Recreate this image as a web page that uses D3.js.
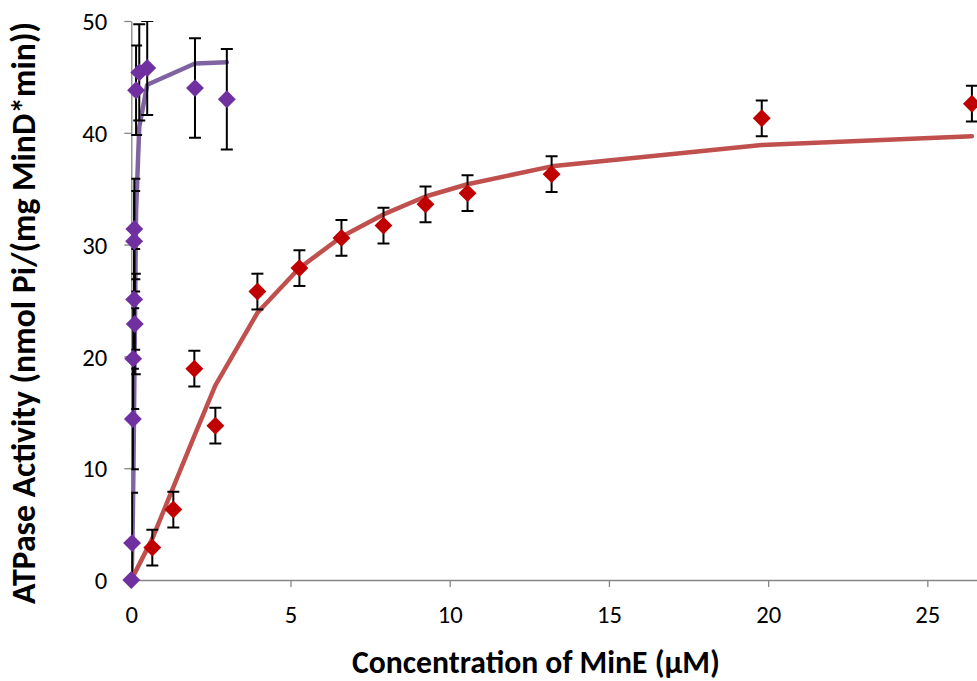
<!DOCTYPE html>
<html>
<head>
<meta charset="utf-8">
<script src="https://cdn.jsdelivr.net/npm/d3@7"></script>
<style>
  html, body { margin: 0; padding: 0; background: #fff; }
  svg { display: block; }
  text { font-family: Carlito, Lato, "Open Sans", sans-serif; }
</style>
</head>
<body>
<svg id="chart" width="977" height="681"></svg>
<script>
// ---- data ----
const redX   = [0.66, 1.32, 1.98, 2.64, 3.96, 5.28, 6.6, 7.92, 9.24, 10.56, 13.2, 19.8, 26.4];
const redY   = [2.9, 6.3, 18.9, 13.8, 25.8, 27.9, 30.6, 31.7, 33.6, 34.6, 36.3, 41.3, 42.6];
const redErr = [1.6, 1.6, 1.6, 1.6, 1.6, 1.6, 1.6, 1.6, 1.6, 1.6, 1.6, 1.6, 1.6];
const redFitX = [0, 0.66, 1.32, 1.98, 2.64, 3.96, 5.28, 6.6, 7.92, 9.24, 10.56, 13.2, 19.8, 26.4];
const redFitY = [0, 3.7, 8.3, 12.9, 17.4, 23.9, 27.9, 30.7, 32.7, 34.3, 35.4, 37.0, 38.9, 39.7];

const purpleX   = [0, 0.025, 0.05, 0.06, 0.11, 0.09, 0.09, 0.095, 0.15, 0.25, 0.5, 2, 3];
const purpleY   = [0, 3.3, 14.4, 19.8, 22.9, 25.1, 30.3, 31.4, 43.8, 45.4, 45.8, 44.0, 43.0];
const purpleErr = [0, 4.5, 4.5, 4.5, 4.5, 4.5, 4.5, 4.5, 4.0, 4.3, 4.2, 4.45, 4.5];
const purpleFitX = [0, 0.025, 0.05, 0.075, 0.1, 0.15, 0.25, 0.5, 2, 3];
const purpleFitY = [0, 2, 6, 12, 19, 33, 40.5, 44.3, 46.2, 46.3];

const xTicks = [0, 5, 10, 15, 20, 25];
const yTicks = [0, 10, 20, 30, 40, 50];
const xTitle = "Concentration of MinE (\u00b5M)";
const yTitle = "ATPase Activity (nmol Pi/(mg MinD*min))";

// ---- layout ----
const svg = d3.select("#chart");
const pLeft = 131.3, pTop = 21, pBottom = 580, pRight = 977;
const x = d3.scaleLinear().domain([0, 26.56]).range([pLeft, pRight]);
const y = d3.scaleLinear().domain([0, 50]).range([pBottom, pTop]);

const axisColor = "#868686";

// calibrate the tick-label font size so "50" is ~25px wide, as in the reference
const probe = svg.append("text").attr("font-size", 20).text("50");
const labelFont = 20 * 25 / probe.node().getComputedTextLength();
probe.remove();

svg.append("defs").append("clipPath").attr("id", "plotclip")
  .append("rect").attr("x", pLeft).attr("y", pTop)
  .attr("width", pRight - pLeft + 10).attr("height", pBottom - pTop);

// axes
const gx = svg.append("g").attr("transform", `translate(0,${pBottom})`)
  .call(d3.axisBottom(x).tickValues(xTicks).tickFormat(d3.format("d"))
        .tickSize(7).tickSizeOuter(0).tickPadding(18));
const gy = svg.append("g").attr("transform", `translate(${pLeft},0)`)
  .call(d3.axisLeft(y).tickValues(yTicks).tickFormat(d3.format("d"))
        .tickSize(7).tickSizeOuter(0).tickPadding(17));
[gx, gy].forEach(g => {
  g.attr("font-size", labelFont).attr("font-family", null);
  g.select(".domain").attr("stroke", axisColor).attr("stroke-width", 1.3);
  g.selectAll(".tick line").attr("stroke", axisColor).attr("stroke-width", 1.3);
  g.selectAll(".tick text").attr("fill", "#000").attr("font-size", labelFont);
});
gy.selectAll(".tick text").attr("dy", "0.35em");

// fit lines
const plot = svg.append("g").attr("clip-path", "url(#plotclip)");
const line = d3.line().x(d => x(d[0])).y(d => y(d[1]));
plot.append("path").datum(redFitX.map((v, i) => [v, redFitY[i]]))
  .attr("d", line).attr("fill", "none").attr("stroke", "#C0504D")
  .attr("stroke-width", 4.5).attr("stroke-linecap", "round").attr("stroke-linejoin", "round");
plot.append("path").datum(purpleFitX.map((v, i) => [v, purpleFitY[i]]))
  .attr("d", line).attr("fill", "none").attr("stroke", "#8064A2")
  .attr("stroke-width", 4.5).attr("stroke-linecap", "round").attr("stroke-linejoin", "round");

// error bars
function errorBars(xs, ys, es) {
  const g = plot.append("g").attr("stroke", "#000").attr("stroke-width", 2).attr("fill", "none");
  xs.forEach((xv, i) => {
    if (!es[i]) return;
    const cx = x(xv), y1 = y(ys[i] + es[i]), y0 = y(ys[i] - es[i]);
    g.append("line").attr("x1", cx).attr("x2", cx).attr("y1", y1).attr("y2", y0);
    g.append("line").attr("x1", cx - 6).attr("x2", cx + 6).attr("y1", y1).attr("y2", y1);
    g.append("line").attr("x1", cx - 6).attr("x2", cx + 6).attr("y1", y0).attr("y2", y0);
  });
}
errorBars(redX, redY, redErr);
errorBars(purpleX, purpleY, purpleErr);

// markers
function markers(xs, ys, color) {
  svg.append("g").selectAll("path").data(xs.map((v, i) => [v, ys[i]])).join("path")
    .attr("d", d3.symbol().type(d3.symbolSquare).size(160))
    .attr("transform", d => `translate(${x(d[0])},${y(d[1])}) rotate(45)`)
    .attr("fill", color);
}
markers(redX, redY, "#C00000");
markers(purpleX, purpleY, "#7030A0");

// axis titles
function fitText(t, target) {
  const w = t.node().getComputedTextLength();
  const fs = parseFloat(t.style("font-size"));
  t.style("font-size", (fs * target / w) + "px");
}
const xt = svg.append("text").attr("x", 536).attr("y", 673)
  .attr("text-anchor", "middle").style("font-weight", "bold").style("font-size", "26px")
  .text(xTitle);
fitText(xt, 368);
const yt = svg.append("text").attr("transform", "translate(35,313) rotate(-90)")
  .attr("text-anchor", "middle").style("font-weight", "bold").style("font-size", "26px")
  .text(yTitle);
fitText(yt, 582);
</script>
</body>
</html>
